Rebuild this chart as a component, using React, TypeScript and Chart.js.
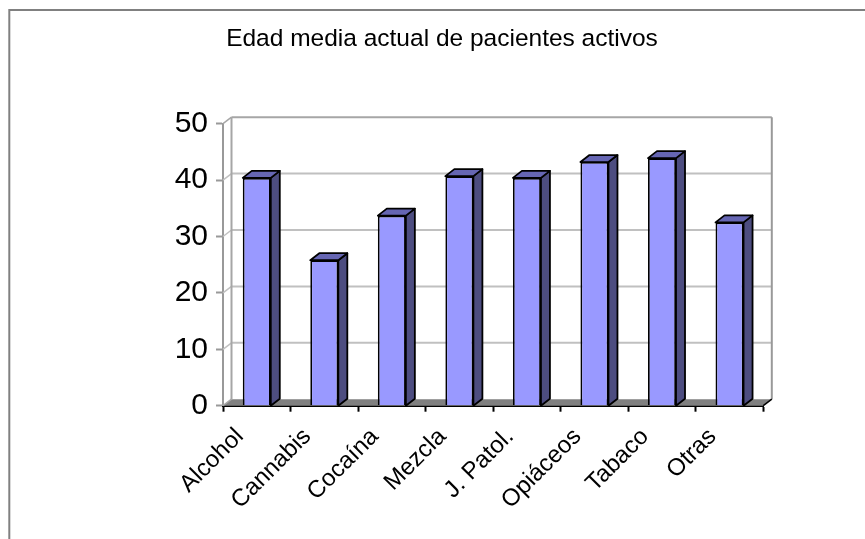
import React, { useEffect, useRef } from "react";
import { Chart, registerables } from "chart.js";

Chart.register(...registerables);

const categories = ["Alcohol", "Cannabis", "Cocaína", "Mezcla", "J. Patol.", "Opiáceos", "Tabaco", "Otras"];
const values = [40.4, 25.8, 33.7, 40.7, 40.4, 43.2, 43.9, 32.5];
const yTicks = [0, 10, 20, 30, 40, 50];
const titleText = "Edad media actual de pacientes activos";

const WALL_DX = 8.5;
const WALL_DY = -6.5;
const BAR_DX = 9;
const BAR_DY = -7;

const poly = (ctx: CanvasRenderingContext2D, pts: number[][], fill: string, stroke?: string, lw = 1.8) => {
  ctx.beginPath();
  pts.forEach(([x, y], i) => (i ? ctx.lineTo(x, y) : ctx.moveTo(x, y)));
  ctx.closePath();
  ctx.fillStyle = fill;
  ctx.fill();
  if (stroke) {
    ctx.strokeStyle = stroke;
    ctx.lineWidth = lw;
    ctx.lineJoin = "round";
    ctx.stroke();
  }
};

const line = (ctx: CanvasRenderingContext2D, x1: number, y1: number, x2: number, y2: number, color: string, lw: number) => {
  ctx.beginPath();
  ctx.moveTo(x1, y1);
  ctx.lineTo(x2, y2);
  ctx.strokeStyle = color;
  ctx.lineWidth = lw;
  ctx.stroke();
};

const framePlugin = {
  id: "frame3d",
  beforeDraw(chart: any) {
    const ctx = chart.ctx;
    ctx.save();
    line(ctx, 1.3, 2, chart.width, 2, "#808080", 2);
    line(ctx, 1.3, 1, 1.3, chart.height, "#808080", 2);
    ctx.restore();
  },
  beforeDatasetsDraw(chart: any) {
    const { ctx, chartArea: a, scales } = chart;
    const y = scales.y;
    ctx.save();
    const bottom = y.getPixelForValue(0);
    poly(ctx, [
      [a.left, bottom],
      [a.right, bottom],
      [a.right + WALL_DX, bottom + WALL_DY],
      [a.left + WALL_DX, bottom + WALL_DY],
    ], "#808080");
    yTicks.forEach((t) => {
      if (t === 0) return;
      const py = y.getPixelForValue(t);
      const color = t === 50 ? "#a6a6a6" : "#c0c0c0";
      line(ctx, a.left, py, a.left + WALL_DX, py + WALL_DY, color, 1.5);
      line(ctx, a.left + WALL_DX, py + WALL_DY, a.right + WALL_DX, py + WALL_DY, color, 2);
    });
    line(ctx, a.left, bottom, a.left + WALL_DX, bottom + WALL_DY, "#a6a6a6", 1.5);
    const topY = y.getPixelForValue(50) + WALL_DY;
    line(ctx, a.left + WALL_DX, topY, a.left + WALL_DX, bottom + WALL_DY, "#a6a6a6", 2);
    line(ctx, a.right + WALL_DX, topY, a.right + WALL_DX, bottom + WALL_DY, "#999999", 2);
    line(ctx, a.right, bottom, a.right + WALL_DX, bottom + WALL_DY, "#000000", 1.5);
    ctx.restore();
  },
  afterDatasetsDraw(chart: any) {
    const { ctx, scales } = chart;
    const base = scales.y.getPixelForValue(0);
    ctx.save();
    chart.getDatasetMeta(0).data.forEach((bar: any) => {
      const r = bar.x + bar.width / 2;
      const l = bar.x - bar.width / 2;
      const t = bar.y;
      poly(ctx, [[r, base], [r + BAR_DX, base + BAR_DY], [r + BAR_DX, t + BAR_DY], [r, t]], "#4d4d80", "#000000");
      poly(ctx, [[l, t], [l + BAR_DX, t + BAR_DY], [r + BAR_DX, t + BAR_DY], [r, t]], "#6666b3", "#000000");
    });
    ctx.restore();
  },
};

export default function App() {
  const ref = useRef<HTMLCanvasElement>(null);
  useEffect(() => {
    const chart = new Chart(ref.current!, {
      type: "bar",
      data: {
        labels: categories,
        datasets: [{
          data: values,
          backgroundColor: "#9999ff",
          borderColor: "#000000",
          borderWidth: 1.8,
          barPercentage: 0.415,
          categoryPercentage: 1,
        }],
      },
      plugins: [framePlugin],
      options: {
        responsive: false,
        animation: false,
        layout: { padding: { left: 112.7, top: 0, right: 112.7, bottom: 0 } },
        plugins: {
          legend: { display: false },
          tooltip: { enabled: false },
          title: {
            display: true,
            text: titleText,
            color: "#000000",
            font: { family: "'Liberation Sans', Arial, sans-serif", size: 24.5, weight: "normal" },
            padding: { top: 16.3, bottom: 70 },
          },
        },
        scales: {
          x: {
            offset: true,
            afterFit: (s: any) => { s.height = 133.3; },
            border: { color: "#000000", width: 2 },
            grid: { offset: true, drawOnChartArea: false, drawTicks: true, tickLength: 6, tickColor: "#000000", tickWidth: 2 },
            ticks: {
              autoSkip: false,
              maxRotation: 45,
              minRotation: 45,
              padding: 11,
              labelOffset: -17,
              color: "#000000",
              font: { family: "'Liberation Sans', Arial, sans-serif", size: 24 },
            },
          },
          y: {
            min: 0,
            max: 50,
            afterFit: (s: any) => { s.width = 102.3; },
            afterBuildTicks: (s: any) => { s.ticks = yTicks.map((v) => ({ value: v })); },
            border: { color: "#999999", width: 2 },
            grid: { drawOnChartArea: false, drawTicks: true, tickLength: 7, tickColor: "#999999", tickWidth: 2 },
            ticks: {
              padding: 8,
              color: "#000000",
              font: { family: "'Liberation Sans', Arial, sans-serif", size: 30 },
            },
          },
        },
      },
    } as any);
    return () => chart.destroy();
  }, []);
  return (
    <div style={{ position: "absolute", left: 0, top: 0, width: 865, height: 539, overflow: "hidden" }}>
      <canvas ref={ref} width={868} height={531} style={{ display: "block", marginLeft: 8, marginTop: 8 }} />
    </div>
  );
}
